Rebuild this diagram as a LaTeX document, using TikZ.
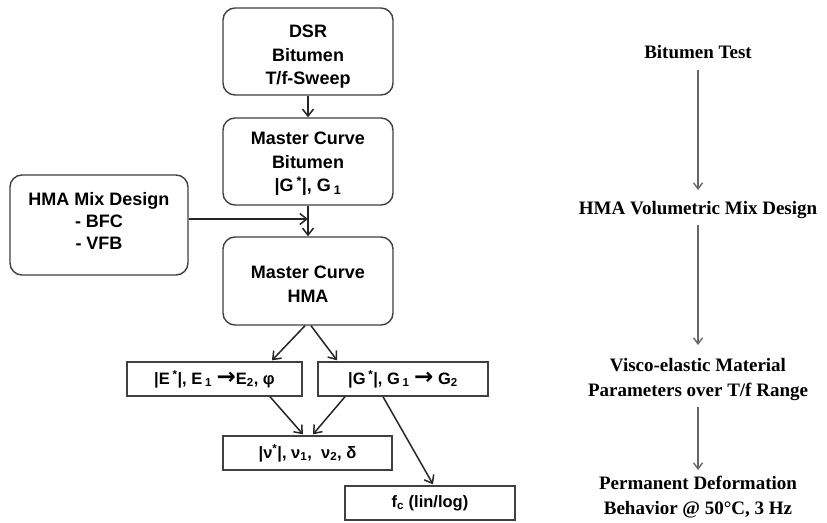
\documentclass[tikz,border=0pt]{standalone}
\usepackage{fontspec}
\setmainfont{Liberation Serif}
\setsansfont{Liberation Sans}
\newfontfamily\arrfont{DejaVu Sans}
\newcommand{\bigarr}{{\arrfont\bfseries\fontsize{23}{23}\selectfont →}}
\usetikzlibrary{arrows.meta}
\begin{document}
\begin{tikzpicture}[x=1pt,y=-1pt,
  rbox/.style={draw=black!75,line width=1.4pt,rounded corners=12pt,minimum width=170pt,inner sep=0pt},
  btxt/.style={align=center,font=\sffamily\bfseries\fontsize{18}{23.5}\selectfont,inner sep=0pt},
  sbox/.style={draw=black!75,line width=1.4pt,minimum width=170pt,minimum height=34pt,align=center,font=\sffamily\bfseries\fontsize{16.5}{18}\selectfont,inner sep=0pt},
  arr/.style={draw=black!85,line width=1.5pt,-{Straight Barb[length=7pt,width=11pt,line width=1.5pt]}},
  garr/.style={draw=black!60,line width=1.6pt,-{Straight Barb[length=6pt,width=9pt,line width=1.4pt]}},
  rtxt/.style={font=\rmfamily\bfseries\fontsize{19}{25}\selectfont,align=center,inner sep=0pt}]
\useasboundingbox (0,0) rectangle (827,522);
\fill[white] (0,0) rectangle (827,522);
% left flow: boxes
\node[rbox,minimum height=87pt] (dsr) at (308,51.5) {};
\node[rbox,minimum height=87pt] (mcb) at (308,161.5) {};
\node[rbox,minimum width=178pt,minimum height=100pt] (mix) at (99,225) {};
\node[rbox,minimum height=88pt] (mch) at (308,281) {};
% texts of rounded boxes
\node[btxt] (dsrt) at (308,57) {DSR\\Bitumen\\T/f-Sweep};
\node[btxt] (mcbt) at (308,164) {Master Curve\\Bitumen\\|G\,\textsuperscript{*}|, G\,\textsubscript{1}};
\node[btxt,font=\sffamily\bfseries\fontsize{18}{22}\selectfont] (mixt) at (99,221) {HMA Mix Design\\- BFC\\- VFB};
\node[btxt] (mcht) at (308,284) {Master Curve\\HMA};
% rectangular boxes
\node[sbox,minimum width=175pt] (e) at (214.5,379) {|E\,\textsuperscript{*}|, E\,\textsubscript{1} \bigarr E\textsubscript{2}, φ};
\node[sbox] (g) at (403,379) {|G\,\textsuperscript{*}|, G\,\textsubscript{1} \bigarr\ G\textsubscript{2}};
\node[sbox,minimum width=169pt] (nu) at (307.5,453) {|ν\textsuperscript{*}|, ν\textsubscript{1}, \ ν\textsubscript{2}, δ};
\node[sbox] (fc) at (430,503) {f\textsubscript{c} (lin/log)};
\coordinate (j) at (308,219);
\draw[arr] (dsr) -- (mcb);
\draw[arr] (mcb) -- (mch);
\draw[arr] ([yshift=6pt]mix.east) -- (j);
\draw[arr] ([xshift=-3pt]mch.south) -- ([xshift=57.5pt,yshift=1pt]e.north);
\draw[arr] ([xshift=3pt]mch.south) -- ([xshift=-66pt,yshift=1pt]g.north);
\draw[arr] ([xshift=55.5pt]e.south) -- ([xshift=-4.5pt,yshift=1pt]nu.north);
\draw[arr] ([xshift=-58pt]g.south) -- ([xshift=5.5pt,yshift=1pt]nu.north);
\draw[arr] ([xshift=-20pt]g.south) -- ([xshift=3pt,yshift=1pt]fc.north);
% right column
\node[rtxt] (t1) at (698,52) {Bitumen Test};
\node[rtxt] (t2) at (698,210) {HMA Volumetric Mix Design};
\node[rtxt] (t3) at (698,379) {Visco-elastic Material\\Parameters over T/f Range};
\node[rtxt] (t4) at (698,497) {Permanent Deformation\\Behavior @ 50°C, 3 Hz};
\coordinate (a1) at (698,70);
\coordinate (b1) at (698,190);
\coordinate (a2) at (698,225);
\coordinate (b2) at (698,345);
\coordinate (a3) at (698,407);
\coordinate (b3) at (698,470);
\draw[garr] (a1) -- (b1);
\draw[garr] (a2) -- (b2);
\draw[garr] (a3) -- (b3);
\end{tikzpicture}
\end{document}
